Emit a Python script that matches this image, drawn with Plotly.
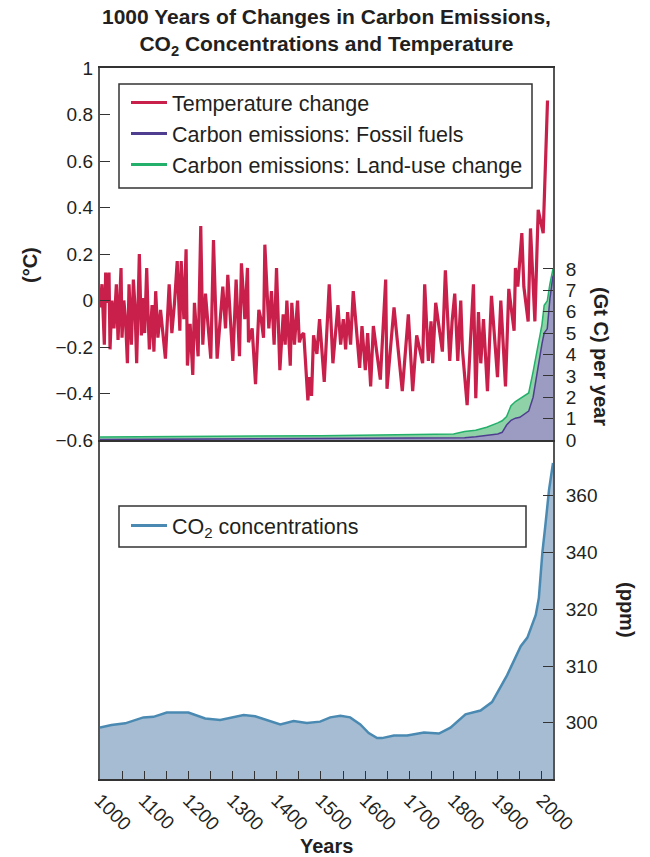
import plotly.graph_objects as go

# ---------------- data ----------------
temp_years = [1000, 1004.5, 1009.8, 1012.8, 1016.6, 1020.4, 1022.7, 1027, 1031.7, 1037, 1040.8,
              1047.6, 1049.8, 1054, 1058, 1062, 1065.7, 1071, 1075.5, 1079, 1083, 1089, 1093.6,
              1096.7, 1101, 1105.7, 1108.7, 1111.7, 1117.8, 1122, 1126, 1131, 1137, 1142, 1148,
              1156.5, 1162.6, 1168.6, 1174.7, 1180.7, 1183.7, 1189.8, 1194.8, 1197.8, 1203.9,
              1209.9, 1213.7, 1222, 1228, 1232.6, 1238.6, 1250.7, 1256.8, 1265, 1277.9, 1284,
              1289.2, 1300.5, 1308, 1315.6, 1320, 1327.7, 1333.7, 1336, 1339.8, 1344.3, 1351.9,
              1359.4, 1365.4, 1370, 1373, 1382, 1388, 1394, 1399.4, 1407, 1414.5, 1419, 1422.8,
              1430.5, 1434, 1440, 1447, 1451, 1456, 1461, 1470.4, 1474, 1478.7, 1483.2, 1490.8,
              1496.8, 1507.4, 1518.7, 1527, 1538.4, 1544.5, 1550.5, 1555.8, 1560.3, 1567, 1573,
              1587.5, 1592.8, 1600.3, 1605.6, 1612.4, 1618.5, 1634.3, 1646.4, 1649.4, 1665.3,
              1684, 1697.7, 1707.5, 1716.6, 1723.4, 1730, 1734.7, 1743, 1749, 1752.8, 1759.6,
              1774.7, 1781.5, 1791.4, 1796.7, 1802.7, 1809.5, 1816.3, 1820, 1830.7, 1845, 1850.3,
              1856.3, 1861.6, 1867.7, 1876.7, 1885.8, 1899.4, 1906.9, 1917.5, 1925, 1937, 1940,
              1945.4, 1954.5, 1959, 1968.8, 1974.1, 1984, 1991.5, 2002.8, 2012.6]
temp_values = [-0.03, 0.07, -0.19, 0.12, -0.01, 0.12, -0.21, 0.00, -0.12, 0.07, -0.17,
               0.14, -0.16, 0.00, -0.09, -0.27, 0.07, -0.19, 0.09, -0.02, -0.27, 0.20, -0.15,
               0.01, -0.14, 0.14, -0.06, -0.21, -0.02, -0.22, 0.04, -0.16, -0.04, -0.14, -0.25,
               0.07, -0.14, -0.01, 0.17, -0.13, 0.17, -0.08, 0.22, -0.28, -0.10,
               -0.32, -0.01, -0.24, 0.32, -0.19, 0.03, -0.25, 0.26, -0.25, 0.06, -0.12,
               0.11, -0.26, 0.09, -0.24, 0.16, -0.08, 0.14, -0.18, -0.15, -0.12, -0.36,
               -0.04, -0.09, -0.16, 0.24, -0.12, 0.04, -0.19, 0.14, -0.30, -0.06, -0.19, 0.00,
               -0.28, -0.01, -0.19, 0.00, -0.18, -0.15, -0.14, -0.43, -0.33, -0.41, -0.15, -0.23,
               -0.08, -0.35, 0.07, -0.27, -0.02, -0.19, -0.08, -0.21, -0.05, -0.19, 0.04,
               -0.29, -0.11, -0.30, -0.14, -0.37, -0.11, -0.34, 0.09, -0.38, -0.03,
               -0.39, -0.06, -0.39, -0.15, -0.21, -0.27, 0.07, -0.26, -0.09, -0.27, -0.01,
               -0.22, 0.13, -0.26, -0.09, 0.03, -0.26, 0.00, -0.21, -0.45, 0.07, -0.42,
               -0.05, -0.27, -0.08, -0.39, 0.02, -0.33, 0.00, -0.37, 0.05, -0.13, 0.14,
               0.06, 0.29, 0.06, -0.09, 0.31, -0.09, 0.39, 0.29, 0.86]

emis_years = [1000, 1500, 1800, 1825, 1850, 1875, 1900, 1910, 1920, 1930, 1940, 1950, 1960,
              1970, 1980, 1990, 2000, 2005, 2012, 2018, 2025]
fossil_fuels = [0.02, 0.05, 0.08, 0.10, 0.15, 0.20, 0.28, 0.36, 0.70, 0.92, 1.02, 1.06, 1.20,
                1.35, 2.00, 3.30, 4.50, 5.00, 5.20, 6.60, 7.70]
land_use = [0.12, 0.15, 0.20, 0.30, 0.31, 0.40, 0.52, 0.54, 0.40, 0.68, 0.78, 0.86, 0.85,
            0.85, 1.20, 1.10, 0.90, 1.30, 1.30, 0.70, 0.30]

co2_years = [1000, 1026, 1057, 1098, 1121, 1151, 1200, 1238, 1272, 1325, 1351, 1408, 1438,
             1468, 1498, 1521, 1544, 1566, 1589, 1608, 1627, 1638, 1665, 1695, 1733, 1767,
             1793, 1827, 1861, 1887, 1921, 1952, 1967, 1986, 1993, 2001, 2008, 2016, 2025]
co2_ppm = [278.3, 279.2, 279.8, 281.9, 282.1, 283.6, 283.6, 281.5, 281.0, 282.7, 282.3, 279.4,
           280.6, 279.9, 280.4, 281.9, 282.5, 281.9, 279.4, 276.4, 274.6, 274.6, 275.5, 275.5,
           276.6, 276.2, 278.3, 283.0, 284.3, 287.3, 296.7, 307.0, 310.0, 318.0, 324.0, 340.0,
           350.0, 362.0, 371.5]

year_ticks = list(range(1000, 2001, 100))
year_labels = [str(v) for v in year_ticks]
temp_ticks = [-0.6, -0.4, -0.2, 0, 0.2, 0.4, 0.6, 0.8, 1]
temp_labels = ["\u22120.6", "\u22120.4", "\u22120.2", "0", "0.2", "0.4", "0.6", "0.8", "1"]
gtc_ticks = [0, 1, 2, 3, 4, 5, 6, 7, 8]
ppm_ticks = [280, 300, 320, 340, 360]
ppm_labels = ["300", "310", "320", "340", "360"]

# ---------------- style ----------------
FONT = "Liberation Sans, Arial, Helvetica, sans-serif"
TXT = "#231f20"
AX = "#555555"
RED = "#c8204b"
PURPLE = "#4f3d8f"
PURPLE_FILL = "#9c9cc2"
GREEN = "#22b06a"
GREEN_FILL = "#8fd2a8"
BLUE = "#4a8ab2"
BLUE_FILL = "#a5bcd2"

W, H = 650, 857
L, R, T, B = 100, 97, 68, 78
PW, PH = W - L - R, H - T - B


def px(x):
    return (x - L) / PW


def py(y):
    return (H - B - y) / PH


split = py(440)

fig = go.Figure()

# emissions (stacked areas), top panel right axis
fig.add_trace(go.Scatter(x=emis_years, y=fossil_fuels, xaxis="x2", yaxis="y2", stackgroup="em",
                         mode="lines", line=dict(color=PURPLE, width=1.5), fillcolor=PURPLE_FILL,
                         showlegend=False, name="Fossil fuels"))
fig.add_trace(go.Scatter(x=emis_years, y=land_use, xaxis="x2", yaxis="y2", stackgroup="em",
                         mode="lines", line=dict(color=GREEN, width=1.5), fillcolor=GREEN_FILL,
                         showlegend=False, name="Land-use change"))
# temperature
fig.add_trace(go.Scatter(x=temp_years, y=temp_values, xaxis="x2", yaxis="y3", mode="lines",
                         line=dict(color=RED, width=3.2), name="Temperature change",
                         legend="legend"))
# legend-only entries (line samples)
fig.add_trace(go.Scatter(x=[None], y=[None], xaxis="x2", yaxis="y3", mode="lines",
                         line=dict(color=PURPLE, width=3), name="Carbon emissions: Fossil fuels",
                         legend="legend"))
fig.add_trace(go.Scatter(x=[None], y=[None], xaxis="x2", yaxis="y3", mode="lines",
                         line=dict(color=GREEN, width=3), name="Carbon emissions: Land-use change",
                         legend="legend"))
# CO2
fig.add_trace(go.Scatter(x=co2_years, y=co2_ppm, xaxis="x", yaxis="y", mode="lines",
                         fill="tozeroy", fillcolor=BLUE_FILL, line=dict(color=BLUE, width=2.5),
                         showlegend=False, name="CO2"))
fig.add_trace(go.Scatter(x=[None], y=[None], xaxis="x", yaxis="y", mode="lines",
                         line=dict(color=BLUE, width=3), name="CO<sub>2</sub> concentrations",
                         legend="legend2"))

tickfont = dict(family=FONT, size=19, color=TXT)
legfont = dict(family=FONT, size=21.5, color=TXT)

fig.update_layout(
    width=W, height=H,
    margin=dict(l=L, r=R, t=T, b=B),
    paper_bgcolor="white", plot_bgcolor="white",
    font=dict(family=FONT, color=TXT),
    xaxis=dict(domain=[0, 1], anchor="y", range=[1000, 2025], tickvals=year_ticks,
               ticktext=year_labels, ticks="inside", ticklen=8, tickcolor="#333",
               minor=dict(ticks="inside", ticklen=8, tickcolor="#333", tick0=1050, dtick=100,
                          showgrid=False),
               tickangle=45, tickfont=tickfont, showline=True, linecolor="#333",
               linewidth=1.5, showgrid=False, zeroline=False, ticklabelstandoff=1),
    xaxis2=dict(domain=[0, 1], anchor="y2", matches="x", showticklabels=False, ticks="",
                showline=True, mirror=True, linecolor="#333", linewidth=1.5,
                showgrid=False, zeroline=False),
    yaxis=dict(domain=[0, split], anchor="x", side="right", range=[260.2, 379.6],
               tickvals=ppm_ticks, ticktext=ppm_labels, ticks="inside", ticklen=10,
               tickcolor="#333", tickfont=tickfont, showline=True, mirror=True,
               linecolor=AX, linewidth=2, showgrid=False, zeroline=False,
               ticklabelstandoff=7),
    yaxis2=dict(domain=[split, 1], anchor="x2", side="right", range=[0, 17.4],
                tickvals=gtc_ticks, ticks="inside", ticklen=10, tickcolor="#333",
                tickfont=tickfont, showline=True, mirror=True, linecolor=AX, linewidth=2,
                showgrid=False, zeroline=False, ticklabelstandoff=7),
    yaxis3=dict(overlaying="y2", anchor="x2", side="left", range=[-0.6, 1.0],
                tickvals=temp_ticks, ticktext=temp_labels, ticks="inside", ticklen=10,
                tickcolor="#333", tickfont=tickfont, showline=False, showgrid=False,
                zeroline=False, ticklabelstandoff=6),
    legend=dict(x=px(126), y=py(82), xanchor="left", yanchor="top", bgcolor="rgba(0,0,0,0)",
                borderwidth=0, font=legfont, itemwidth=36, traceorder="normal"),
    legend2=dict(x=px(126), y=py(505), xanchor="left", yanchor="top", bgcolor="rgba(0,0,0,0)",
                 borderwidth=0, font=legfont, itemwidth=36, traceorder="normal"),
    shapes=[
        dict(type="rect", xref="paper", yref="paper", x0=px(119), x1=px(532), y0=py(84),
             y1=py(188), line=dict(color="#333", width=1.5), fillcolor="rgba(0,0,0,0)"),
        dict(type="rect", xref="paper", yref="paper", x0=px(119), x1=px(526), y0=py(506),
             y1=py(547), line=dict(color="#333", width=1.5), fillcolor="rgba(0,0,0,0)"),
    ],
    annotations=[
        dict(text="<b>1000 Years of Changes in Carbon Emissions,<br>CO<sub>2</sub> Concentrations and Temperature</b>",
             xref="paper", yref="paper", x=px(326), y=py(3), xanchor="center", yanchor="top",
             showarrow=False, font=dict(family=FONT, size=21, color=TXT)),
        dict(text="<b>(°C)</b>", xref="paper", yref="paper", x=px(30), y=py(265),
             xanchor="center", yanchor="middle", textangle=-90, showarrow=False,
             font=dict(family=FONT, size=20, color=TXT)),
        dict(text="<b>(Gt C) per year</b>", xref="paper", yref="paper", x=px(601), y=py(356),
             xanchor="center", yanchor="middle", textangle=90, showarrow=False,
             font=dict(family=FONT, size=20, color=TXT)),
        dict(text="<b>(ppm)</b>", xref="paper", yref="paper", x=px(627), y=py(610),
             xanchor="center", yanchor="middle", textangle=90, showarrow=False,
             font=dict(family=FONT, size=20, color=TXT)),
        dict(text="<b>Years</b>", xref="paper", yref="paper", x=px(326), y=py(846),
             xanchor="center", yanchor="middle", showarrow=False,
             font=dict(family=FONT, size=20, color=TXT)),
    ],
)

fig.write_html("out.html", config={"displayModeBar": False},
               post_script="document.body.style.margin='0px';")
